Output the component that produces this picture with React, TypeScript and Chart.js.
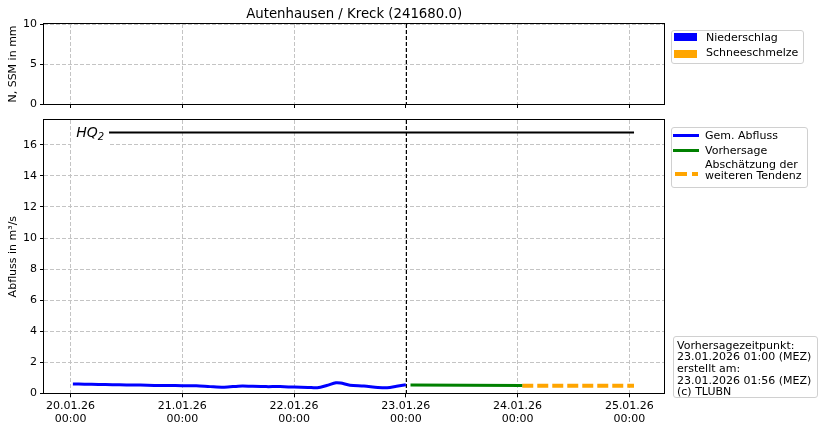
import React, { useEffect, useRef } from "react";
import { Chart, registerables } from "chart.js";
Chart.register(...registerables);

const FONT = "'DejaVu Sans', 'Liberation Sans', sans-serif";

// ---- data ----
const chartTitle = "Autenhausen / Kreck (241680.0)";
const topYLabel = "N, SSM in mm";
const bottomYLabel = "Abfluss in m³/s";

// hours since 20.01.26 00:00
const xTickHours = [0, 24, 48, 72, 96, 120];
const xTickLabels = [
  ["20.01.26", "00:00"],
  ["21.01.26", "00:00"],
  ["22.01.26", "00:00"],
  ["23.01.26", "00:00"],
  ["24.01.26", "00:00"],
  ["25.01.26", "00:00"],
];
const xMin = -5.7;
const xMax = 127.5;
const forecastHour = 72;

const topYTicks = [0, 5, 10];
const topYMax = 10;
const bottomYTicks = [0, 2, 4, 6, 8, 10, 12, 14, 16];
const bottomYMax = 17.6;

const precipHours: number[] = [];
const precipValues: number[] = [];
const snowHours: number[] = [];
const snowValues: number[] = [];

const gemHours = [0.5, 3, 6, 9, 12, 15, 18, 21, 24, 27, 30, 33, 36, 37, 39, 42, 45, 48, 51, 53, 55, 57, 58, 60, 63, 66, 68, 70, 72];
const gemValues = [0.6, 0.59, 0.57, 0.55, 0.54, 0.53, 0.51, 0.5, 0.49, 0.49, 0.43, 0.39, 0.46, 0.47, 0.45, 0.43, 0.43, 0.4, 0.38, 0.36, 0.5, 0.68, 0.66, 0.52, 0.47, 0.38, 0.36, 0.45, 0.55];

const vorHours = [73, 85, 97];
const vorValues = [0.53, 0.52, 0.5];

const tendHours = [97, 121];
const tendValues = [0.48, 0.48];

const hq2Hours = [8, 121];
const hq2Value = 16.8;
const hq2LabelHour = 1.2;

const legendTop = [
  { label: "Niederschlag", color: "#0000ff" },
  { label: "Schneeschmelze", color: "#ffa500" },
];
const infoLines = [
  "Vorhersagezeitpunkt:",
  "23.01.2026 01:00 (MEZ)",
  "erstellt am:",
  "23.01.2026 01:56 (MEZ)",
  "(c) TLUBN",
];

// ---- helpers ----
const GRID = "#c4c4c4";
const tickFont = { family: FONT, size: 11 };

const framePlugin = {
  id: "frame",
  afterDraw(chart: any) {
    const { ctx, chartArea: a } = chart;
    ctx.save();
    ctx.strokeStyle = "#000";
    ctx.lineWidth = 1;
    ctx.setLineDash([]);
    ctx.strokeRect(Math.round(a.left) - 0.5, Math.round(a.top) - 0.5, Math.round(a.right - a.left) + 1, Math.round(a.bottom - a.top) + 1);
    ctx.restore();
  },
};

const forecastPlugin = {
  id: "forecastLine",
  afterDatasetsDraw(chart: any) {
    const { ctx, chartArea: a } = chart;
    const x = Math.round(chart.scales.x.getPixelForValue(forecastHour)) + 0.5;
    ctx.save();
    ctx.strokeStyle = "#000";
    ctx.lineWidth = 1;
    ctx.setLineDash([4, 2]);
    ctx.beginPath();
    ctx.moveTo(x, a.top);
    ctx.lineTo(x, a.bottom);
    ctx.stroke();
    ctx.restore();
  },
};

const titlePlugin = {
  id: "topTitle",
  afterDraw(chart: any) {
    const { ctx, chartArea: a } = chart;
    ctx.save();
    ctx.fillStyle = "#000";
    ctx.font = `13.3px ${FONT}`;
    ctx.textAlign = "center";
    ctx.textBaseline = "alphabetic";
    ctx.fillText(chartTitle, (a.left + a.right) / 2, 18);
    ctx.restore();
  },
};

const hqLabelPlugin = {
  id: "hqLabel",
  afterDatasetsDraw(chart: any) {
    const { ctx, chartArea: a } = chart;
    const x = chart.scales.x.getPixelForValue(hq2LabelHour);
    const y = chart.scales.y.getPixelForValue(hq2Value);
    ctx.save();
    ctx.font = `italic 14px ${FONT}`;
    const w1 = ctx.measureText("HQ").width;
    ctx.font = `italic 10px ${FONT}`;
    const w2 = ctx.measureText("2").width;
    const left = x - 5;
    const right = x + w1 + w2 + 5;
    const top = Math.max(a.top + 1, y - 14);
    ctx.fillStyle = "#fff";
    ctx.fillRect(left, top, right - left, y + 14 - top);
    ctx.fillStyle = "#000";
    ctx.textBaseline = "alphabetic";
    ctx.textAlign = "left";
    ctx.font = `italic 14px ${FONT}`;
    ctx.fillText("HQ", x, y + 5);
    ctx.font = `italic 10px ${FONT}`;
    ctx.fillText("2", x + w1, y + 8);
    ctx.restore();
  },
};

function xScale(showLabels: boolean, height: number) {
  return {
    type: "linear",
    offset: false,
    min: xMin,
    max: xMax,
    afterBuildTicks: (s: any) => {
      s.ticks = xTickHours.map((v) => ({ value: v }));
    },
    afterFit: (s: any) => {
      s.height = height;
      s.paddingLeft = 0;
      s.paddingRight = 0;
      s.paddingTop = 0;
      s.paddingBottom = 0;
    },
    ticks: {
      display: showLabels,
      autoSkip: false,
      maxRotation: 0,
      minRotation: 0,
      padding: 2,
      font: tickFont,
      color: "#000",
      callback: (_v: any, i: number) => xTickLabels[i],
    },
    grid: { offset: false, color: GRID, lineWidth: 1, drawTicks: true, tickLength: 4, tickColor: "#000", tickWidth: 1 },
    border: { display: false, dash: [4, 2] },
  };
}

function yScale(max: number, ticks: number[], label: string) {
  return {
    type: "linear",
    min: 0,
    max,
    afterBuildTicks: (s: any) => {
      s.ticks = ticks.map((v) => ({ value: v }));
    },
    afterFit: (s: any) => {
      s.width = 44;
      s.paddingLeft = 0;
      s.paddingRight = 0;
      s.paddingTop = 0;
      s.paddingBottom = 0;
    },
    ticks: { autoSkip: false, padding: 3, font: tickFont, color: "#000" },
    grid: { color: GRID, lineWidth: 1, drawTicks: true, tickLength: 4, tickColor: "#000", tickWidth: 1 },
    border: { display: false, dash: [4, 2] },
    title: { display: true, text: label, font: tickFont, color: "#000", padding: { top: 7, bottom: 0 } },
  };
}

const pts = (xs: number[], ys: number[]) => xs.map((x, i) => ({ x, y: ys[i] }));

export default function App() {
  const topRef = useRef<HTMLCanvasElement>(null);
  const botRef = useRef<HTMLCanvasElement>(null);

  useEffect(() => {
    Chart.defaults.font.family = FONT;
    Chart.defaults.color = "#000";
    const top = new Chart(topRef.current as HTMLCanvasElement, {
      type: "bar",
      data: {
        datasets: [
          { type: "bar", label: "Niederschlag", data: pts(precipHours, precipValues), backgroundColor: "#0000ff" },
          { type: "bar", label: "Schneeschmelze", data: pts(snowHours, snowValues), backgroundColor: "#ffa500" },
        ],
      } as any,
      options: {
        animation: false,
        responsive: false,
        maintainAspectRatio: false,
        layout: { padding: { left: 0, right: 158.7, top: 24, bottom: 0 } },
        plugins: { legend: { display: false }, tooltip: { enabled: false } },
        scales: {
          x: xScale(false, 11),
          y: yScale(topYMax, topYTicks, topYLabel),
        } as any,
      },
      plugins: [forecastPlugin, framePlugin, titlePlugin],
    });

    const bottom = new Chart(botRef.current as HTMLCanvasElement, {
      type: "line",
      data: {
        datasets: [
          { label: "HQ2", data: pts(hq2Hours, [hq2Value, hq2Value]), borderColor: "#000", borderWidth: 2, pointRadius: 0 },
          { label: "Gem. Abfluss", data: pts(gemHours, gemValues), borderColor: "#0000ff", borderWidth: 3, pointRadius: 0, tension: 0.3 },
          { label: "Vorhersage", data: pts(vorHours, vorValues), borderColor: "#008000", borderWidth: 3, pointRadius: 0 },
          { label: "Abschätzung der weiteren Tendenz", data: pts(tendHours, tendValues), borderColor: "#ffa500", borderWidth: 4, borderDash: [11, 4], pointRadius: 0 },
        ],
      },
      options: {
        animation: false,
        responsive: false,
        maintainAspectRatio: false,
        layout: { padding: { left: 0, right: 158.7, top: 5, bottom: 0 } },
        plugins: { legend: { display: false }, tooltip: { enabled: false } },
        scales: {
          x: xScale(true, 37.7),
          y: yScale(bottomYMax, bottomYTicks, bottomYLabel),
        } as any,
      },
      plugins: [forecastPlugin, hqLabelPlugin, framePlugin],
    });

    return () => {
      top.destroy();
      bottom.destroy();
    };
  }, []);

  const txt: React.CSSProperties = {
    position: "absolute",
    fontFamily: FONT,
    fontSize: 11,
    lineHeight: "13px",
    color: "#000",
    whiteSpace: "nowrap",
  };
  const box: React.CSSProperties = {
    position: "absolute",
    boxSizing: "border-box",
    border: "1px solid #d0d0d0",
    borderRadius: 3,
    background: "rgba(255,255,255,0.8)",
  };

  return (
    <div style={{ position: "absolute", left: 0, top: 0, width: 823, height: 431, background: "#fff", overflow: "hidden" }}>
      <canvas ref={topRef} width={823} height={115} style={{ position: "absolute", left: 0, top: 0, width: 823, height: 115 }} />
      <canvas ref={botRef} width={823} height={316} style={{ position: "absolute", left: 0, top: 115, width: 823, height: 316 }} />

      <div style={{ ...box, left: 671, top: 30, width: 133, height: 34 }}>
        {legendTop.map((e, i) => (
          <React.Fragment key={e.label}>
            <div style={{ position: "absolute", left: 2, top: 2.3 + i * 17, width: 23, height: 8, background: e.color }} />
            <div style={{ ...txt, left: 34, top: 0 + i * 15 }}>{e.label}</div>
          </React.Fragment>
        ))}
      </div>

      <div style={{ ...box, left: 671, top: 127, width: 137, height: 61 }}>
        <div style={{ position: "absolute", left: 1, top: 6, width: 26, height: 3, background: "#0000ff" }} />
        <div style={{ ...txt, left: 33, top: 1 }}>Gem. Abfluss</div>
        <div style={{ position: "absolute", left: 1, top: 21, width: 26, height: 3, background: "#008000" }} />
        <div style={{ ...txt, left: 33, top: 16 }}>Vorhersage</div>
        <div style={{ position: "absolute", left: 3, top: 43.5, width: 12, height: 4, background: "#ffa500" }} />
        <div style={{ position: "absolute", left: 20, top: 43.5, width: 6, height: 4, background: "#ffa500" }} />
        <div style={{ ...txt, left: 33, top: 32, lineHeight: "10.6px" }}>
          Abschätzung der
          <br />
          weiteren Tendenz
        </div>
      </div>

      <div style={{ ...box, left: 673, top: 336, width: 145, height: 62 }}>
        <div style={{ ...txt, left: 3, top: 2.5, fontSize: 11, lineHeight: "11.7px" }}>
          {infoLines.map((l) => (
            <div key={l}>{l}</div>
          ))}
        </div>
      </div>
    </div>
  );
}
